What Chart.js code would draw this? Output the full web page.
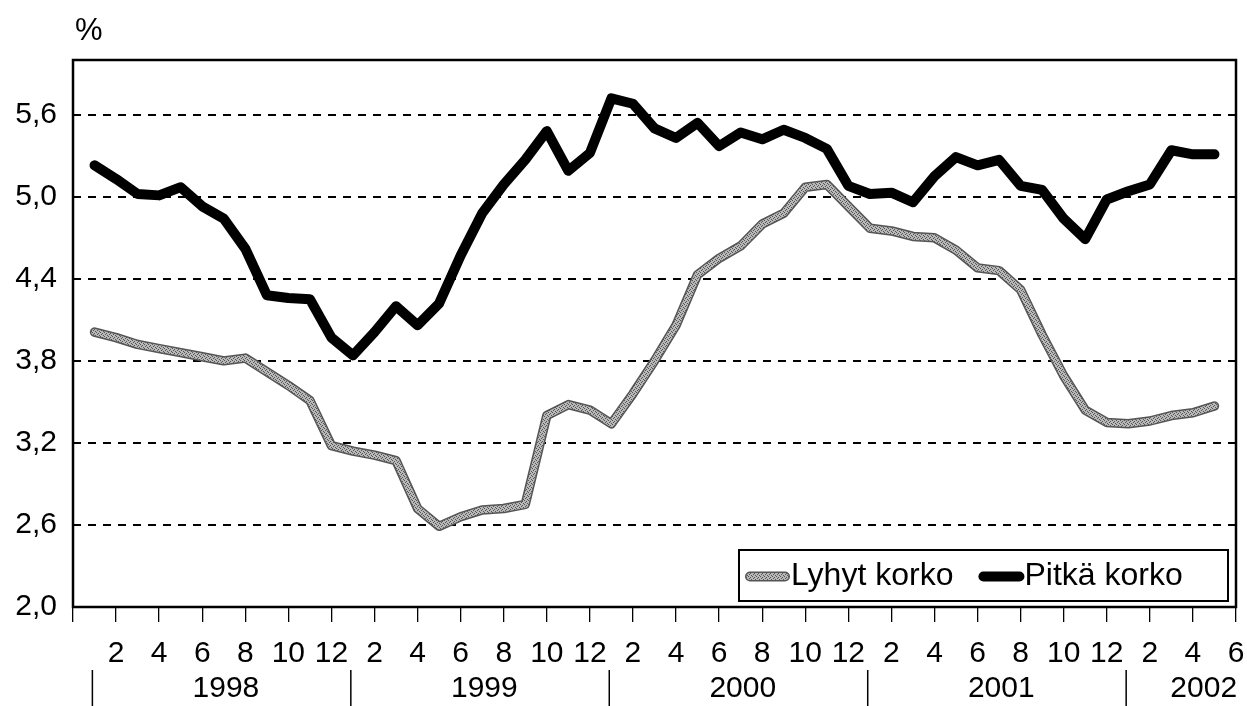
<!DOCTYPE html>
<html><head><meta charset="utf-8">
<script src="https://cdn.jsdelivr.net/npm/chart.js@4.4.0/dist/chart.umd.min.js"></script>
<style>html,body{margin:0;padding:0;background:#fff;}</style>
</head><body>
<canvas id="c" width="1247" height="706"></canvas>
<script>
// Months counted from Dec 1997 = 0 ; Jan 1998 = 1 ... May 2002 = 53
const monthIndex = [1,2,3,4,5,6,7,8,9,10,11,12,13,14,15,16,17,18,19,20,21,22,23,24,25,26,27,28,29,30,31,32,33,34,35,36,37,38,39,40,41,42,43,44,45,46,47,48,49,50,51,52,53];
const lyhytKorko = [4.01,3.97,3.92,3.89,3.86,3.83,3.80,3.82,3.72,3.62,3.51,3.18,3.14,3.11,3.07,2.72,2.59,2.66,2.71,2.72,2.75,3.40,3.48,3.44,3.34,3.56,3.80,4.06,4.43,4.55,4.64,4.80,4.88,5.07,5.09,4.93,4.77,4.75,4.71,4.70,4.61,4.48,4.46,4.32,3.99,3.69,3.44,3.35,3.34,3.36,3.40,3.42,3.47];
const pitkaKorko = [5.23,5.13,5.02,5.01,5.07,4.93,4.84,4.62,4.28,4.26,4.25,3.97,3.84,4.01,4.20,4.06,4.22,4.57,4.88,5.09,5.27,5.48,5.19,5.32,5.72,5.68,5.50,5.43,5.54,5.37,5.47,5.42,5.49,5.43,5.35,5.08,5.02,5.03,4.96,5.15,5.29,5.23,5.27,5.08,5.05,4.84,4.69,4.98,5.04,5.09,5.34,5.31,5.31];
const yTickValues = [2.0,2.6,3.2,3.8,4.4,5.0,5.6];
const monthTickValues = [0,2,4,6,8,10,12,14,16,18,20,22,24,26,28,30,32,34,36,38,40,42,44,46,48,50,52,54];
const years = ['1998','1999','2000','2001','2002'];
const seriesNames = ['Lyhyt korko','Pitkä korko'];
const unitLabel = '%';

const FONT = '"Liberation Sans", Arial, sans-serif';

// stippled grey pattern for the short-rate line
function makePattern(){
  const p = document.createElement('canvas'); p.width = 4; p.height = 4;
  const g = p.getContext('2d');
  g.fillStyle = '#b8b8b8'; g.fillRect(0,0,4,4);
  g.fillStyle = '#555';
  g.fillRect(0,0,1,1); g.fillRect(2,1,1,1); g.fillRect(1,2,1,1); g.fillRect(3,3,1,1);
  return g.createPattern(p,'repeat');
}
const greyPat = makePattern();

const toPts = arr => arr.map((v,i)=>({x:monthIndex[i], y:v}));

const framePlugin = {
  id:'frame',
  afterDraw(chart){
    const {ctx, chartArea:a, scales:{x}} = chart;
    ctx.save();
    ctx.strokeStyle = '#000'; ctx.lineWidth = 2.5;
    ctx.strokeRect(a.left, a.top, a.right-a.left, a.bottom-a.top);
    // unit label
    ctx.fillStyle = '#000'; ctx.font = '31px ' + FONT;
    ctx.textAlign = 'left'; ctx.textBaseline = 'middle';
    ctx.fillText(unitLabel, 75, 31);
    // year labels and separators
    ctx.lineWidth = 1.5;
    years.forEach((yr,i)=>{
      const start = 12*i + 0.9;
      const xs = x.getPixelForValue(start);
      ctx.beginPath(); ctx.moveTo(xs, 670); ctx.lineTo(xs, 706); ctx.stroke();
      const c = i < years.length-1 ? start + 6.2 : start + 3.6;
      ctx.textAlign = 'center';
      ctx.font = '30px ' + FONT;
      ctx.fillText(yr, x.getPixelForValue(c), 689);
    });
    // legend
    const bx = a.right - 497, by = a.bottom - 57, bw = 489, bh = 51;
    ctx.fillStyle = '#fff'; ctx.fillRect(bx, by, bw, bh);
    ctx.strokeStyle = '#000'; ctx.lineWidth = 2; ctx.strokeRect(bx, by, bw, bh);
    ctx.font = '32px ' + FONT; ctx.textAlign = 'left'; ctx.textBaseline = 'middle';
    const cy = by + bh/2 + 1;
    let cx = bx + 8;
    ctx.lineCap = 'round';
    ctx.strokeStyle = '#555'; ctx.lineWidth = 10;
    ctx.beginPath(); ctx.moveTo(cx+3, cy); ctx.lineTo(cx+38, cy); ctx.stroke();
    ctx.strokeStyle = greyPat; ctx.lineWidth = 7;
    ctx.beginPath(); ctx.moveTo(cx+3, cy); ctx.lineTo(cx+38, cy); ctx.stroke();
    cx += 44;
    ctx.fillStyle = '#000';
    ctx.fillText(seriesNames[0], cx, cy);
    cx += ctx.measureText(seriesNames[0]).width + 26;
    ctx.strokeStyle = '#000'; ctx.lineWidth = 10;
    ctx.beginPath(); ctx.moveTo(cx+4, cy); ctx.lineTo(cx+40, cy); ctx.stroke();
    cx += 45;
    ctx.fillText(seriesNames[1], cx, cy);
    ctx.restore();
  }
};

new Chart(document.getElementById('c'), {
  type:'line',
  data:{
    datasets:[
      {label:seriesNames[1], data:toPts(pitkaKorko), borderColor:'#000', borderWidth:10, pointRadius:0, tension:0, borderCapStyle:'round', borderJoinStyle:'round', order:1},
      {label:seriesNames[0], data:toPts(lyhytKorko), borderColor:greyPat, borderWidth:6.5, pointRadius:0, tension:0, borderCapStyle:'round', borderJoinStyle:'round', order:2},
      {label:'_outline', data:toPts(lyhytKorko), borderColor:'#555', borderWidth:9.5, pointRadius:0, tension:0, borderCapStyle:'round', borderJoinStyle:'round', order:3}
    ]
  },
  options:{
    responsive:false, animation:false, devicePixelRatio:1,
    layout:{padding:{left:0, top:60, right:11, bottom:0}},
    plugins:{legend:{display:false}, tooltip:{enabled:false}},
    scales:{
      x:{
        type:'linear', min:0, max:54,
        afterBuildTicks(s){ s.ticks = monthTickValues.map(v=>({value:v})); },
        afterFit(s){ s.height = 99; s.paddingLeft = 0; s.paddingRight = 0; },
        grid:{drawOnChartArea:false, drawTicks:true, tickLength:15, color:'#000', lineWidth:1.3},
        border:{display:false},
        ticks:{autoSkip:false, maxRotation:0, padding:14, color:'#000', font:{family:FONT, size:30},
          callback(v){ return v === 0 ? '' : String((v % 12) || 12); }}
      },
      y:{
        min:2, max:6,
        afterBuildTicks(s){ s.ticks = yTickValues.map(v=>({value:v})); },
        afterFit(s){ s.width = 73; s.paddingTop = 0; s.paddingBottom = 0; },
        grid:{drawTicks:false, color(ctx){ return (ctx.tick && ctx.tick.value > 2.01) ? '#000' : 'rgba(0,0,0,0)'; }, lineWidth:2},
        border:{display:false, dash:[8,7]},
        ticks:{padding:16, color:'#000', font:{family:FONT, size:30},
          callback(v){ return Number(v).toFixed(1).replace('.', ','); }}
      }
    }
  },
  plugins:[framePlugin]
});
</script>
</body></html>
